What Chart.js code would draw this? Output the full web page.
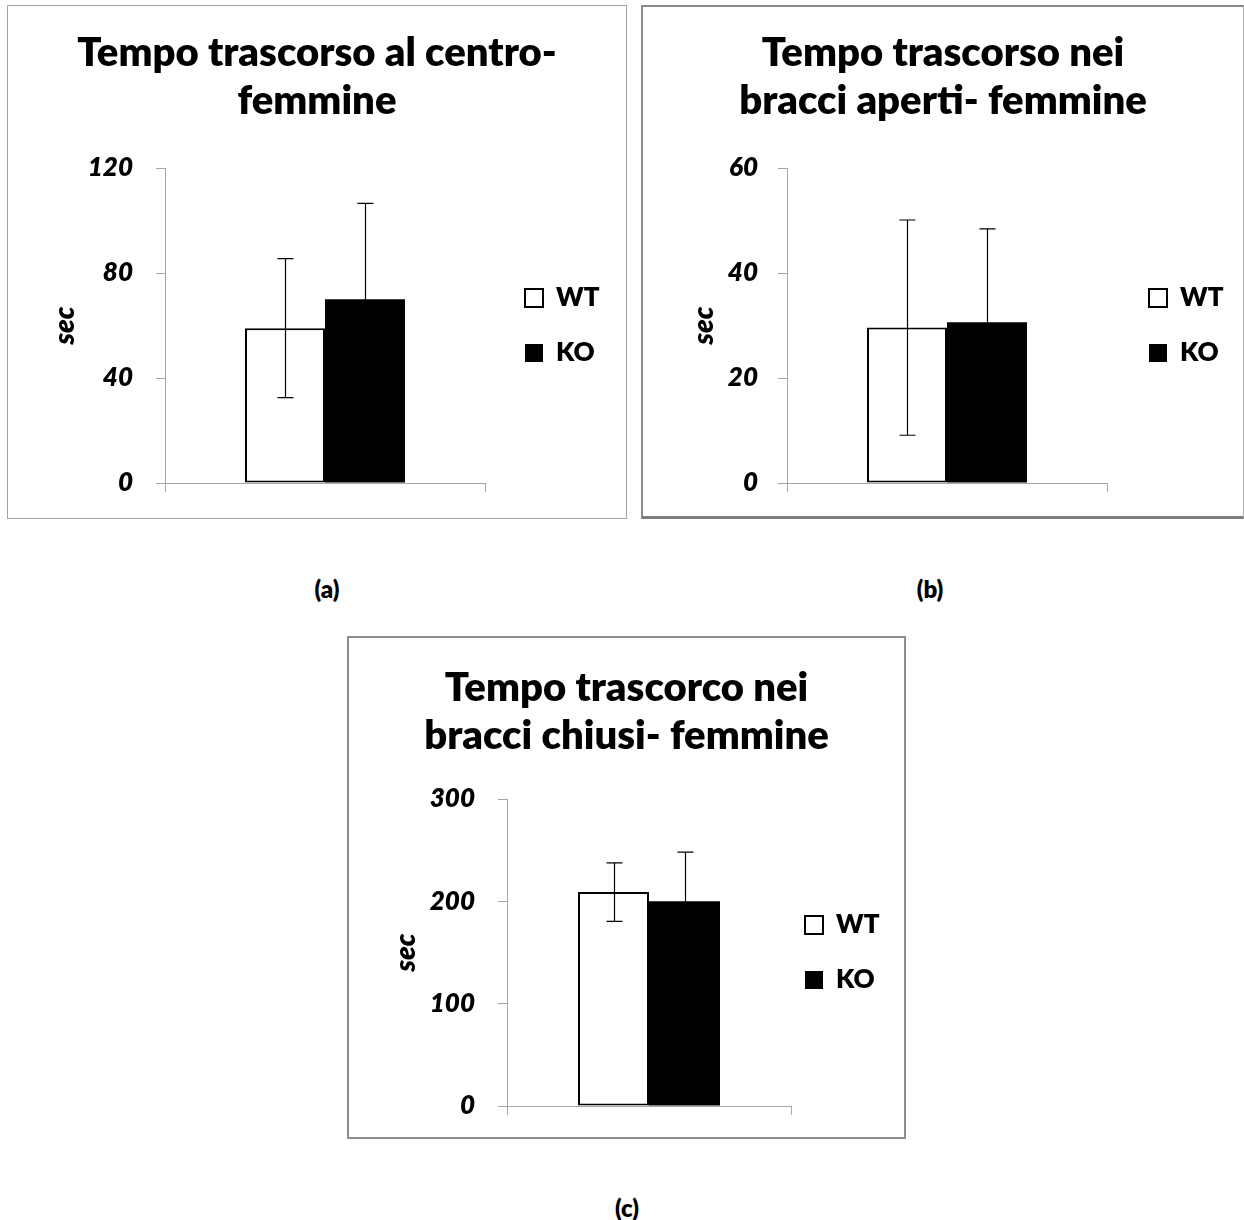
<!DOCTYPE html>
<html>
<head>
<meta charset="utf-8">
<script src="https://cdn.jsdelivr.net/npm/chart.js@4.4.1/dist/chart.umd.min.js"></script>
<style>
  html, body { margin: 0; padding: 0; background: #fff; }
  body { width: 1244px; height: 1220px; position: relative; overflow: hidden; font-family: Lato, sans-serif; }
  .frame { position: absolute; box-sizing: border-box; }
  canvas { position: absolute; }
  .cap { position: absolute; font-weight: 800; font-size: 24px; color: #000; transform: translate(-50%, -50%); white-space: nowrap; }
</style>
</head>
<body>
<div class="frame" style="left:7px;top:5px;width:620px;height:514px;border:1px solid #a3a3a3;"></div>
<div class="frame" style="left:641px;top:5px;width:603px;height:514px;border-style:solid;border-color:#8a8a8a #b0b0b0 #7f7f7f #8a8a8a;border-width:2px 1px 3px 2px;"></div>
<div class="frame" style="left:347px;top:636px;width:559px;height:503px;border:2px solid #8e8e8e;"></div>

<canvas id="chartA" width="618" height="512" style="left:8px;top:6px;"></canvas>
<canvas id="chartB" width="600" height="509" style="left:643px;top:7px;"></canvas>
<canvas id="chartC" width="555" height="499" style="left:349px;top:638px;"></canvas>

<div class="cap" style="left:327px;top:588px;">(a)</div>
<div class="cap" style="left:930px;top:588px;">(b)</div>
<div class="cap" style="left:627px;top:1207px;">(c)</div>

<script>
// Groups compared in every panel
const groups = ['WT', 'KO'];
const category = [''];

// Time spent in the centre (sec): means and standard errors
const centroMean = [59, 70];
const centroErr = [26.5, 36.5];

// Time spent in the open arms (sec)
const apertiMean = [29.6, 30.6];
const apertiErr = [20.5, 17.8];

// Time spent in the closed arms (sec)
const chiusiMean = [209, 200];
const chiusiErr = [28.5, 48];

// Axis tick ranges
const centroTicks = [0, 40, 80, 120];
const apertiTicks = [0, 20, 40, 60];
const chiusiTicks = [0, 100, 200, 300];

const AXIS_GREY = '#a6a6a6';
const FONT = 'Lato';
const HEAVY = 800;

// Draws symmetric error bars on each bar, using the value scale
const errorBarPlugin = {
  id: 'errorBars',
  afterDatasetsDraw(chart, args, opts) {
    const ctx = chart.ctx;
    const yScale = chart.scales.y;
    ctx.save();
    ctx.strokeStyle = '#000';
    ctx.lineWidth = 1.2;
    chart.data.datasets.forEach((ds, di) => {
      const meta = chart.getDatasetMeta(di);
      meta.data.forEach((bar, i) => {
        const v = ds.data[i];
        const e = opts.errors[di][i];
        const x = Math.round(bar.x) + 0.5;
        const yHi = yScale.getPixelForValue(v + e);
        const yLo = yScale.getPixelForValue(v - e);
        const cap = 8;
        ctx.beginPath();
        ctx.moveTo(x, yHi); ctx.lineTo(x, yLo);
        ctx.moveTo(x - cap, yHi); ctx.lineTo(x + cap, yHi);
        ctx.moveTo(x - cap, yLo); ctx.lineTo(x + cap, yLo);
        ctx.stroke();
      });
    });
    ctx.restore();
  }
};

// Places the legend at a fixed gap from the plot and keeps the title
// centred on the whole canvas despite the right-hand layout padding
const boxOffsetPlugin = {
  id: 'boxOffset',
  afterLayout(chart, args, opts) {
    const lg = chart.legend;
    if (lg) {
      lg.left += opts.shift;
      lg.right = lg.left + 160;
      lg.width = 160;
    }
    const tb = chart.titleBlock;
    if (tb) {
      tb.left = 0;
      tb.right = chart.width;
      tb.width = chart.width;
    }
  }
};

function makeChart(id, cfg) {
  const ticks = cfg.ticks;
  return new Chart(document.getElementById(id), {
    type: 'bar',
    data: {
      labels: category,
      datasets: [
        {
          label: groups[0],
          data: [cfg.mean[0]],
          backgroundColor: '#ffffff',
          borderColor: '#000000',
          borderWidth: 2,
          borderSkipped: false
        },
        {
          label: groups[1],
          data: [cfg.mean[1]],
          backgroundColor: '#000000',
          borderColor: '#000000',
          borderWidth: 0,
          borderSkipped: false
        }
      ]
    },
    options: {
      responsive: false,
      animation: false,
      events: [],
      datasets: { bar: { categoryPercentage: 0.5, barPercentage: 1.0 } },
      layout: { padding: { left: 0, top: 0, right: cfg.padRight, bottom: cfg.padBottom } },
      scales: {
        x: {
          offset: true,
          grid: { offset: true, drawOnChartArea: false, tickLength: 9, color: AXIS_GREY },
          border: { color: AXIS_GREY },
          ticks: { display: false }
        },
        y: {
          min: ticks[0],
          max: ticks[ticks.length - 1],
          afterFit(scale) {
            scale.width = cfg.axisWidth;
            scale.paddingTop = 0;
            scale.paddingBottom = 0;
          },
          grid: { drawOnChartArea: false, tickLength: 9, color: AXIS_GREY },
          border: { color: AXIS_GREY },
          ticks: {
            stepSize: ticks[1] - ticks[0],
            padding: cfg.tickPad,
            color: '#000',
            font: { family: FONT, size: 26, weight: HEAVY, style: 'italic' }
          },
          title: {
            display: true,
            text: 'sec',
            color: '#000',
            padding: { top: cfg.secPad, bottom: 0 },
            font: { family: FONT, size: 28, weight: HEAVY, style: 'italic' }
          }
        }
      },
      plugins: {
        title: {
          display: true,
          text: cfg.title,
          color: '#000',
          padding: { top: cfg.titleTop, bottom: cfg.titleBottom },
          font: { family: FONT, size: 40, weight: HEAVY, lineHeight: 1.2 }
        },
        legend: {
          position: 'right',
          align: 'center',
          fullSize: false,
          maxWidth: 80,
          labels: {
            boxWidth: 18,
            boxHeight: 18,
            padding: 29,
            color: '#000',
            font: { family: FONT, size: 26, weight: HEAVY }
          }
        },
        tooltip: { enabled: false },
        errorBars: { errors: cfg.err },
        boxOffset: { shift: cfg.legendShift }
      }
    },
    plugins: [errorBarPlugin, boxOffsetPlugin]
  });
}

function drawAll() {
  Chart.defaults.font.family = FONT;
  Chart.defaults.color = '#000';

  makeChart('chartA', {
    title: ['Tempo trascorso al centro-', 'femmine'],
    mean: centroMean, err: [[centroErr[0]], [centroErr[1]]], ticks: centroTicks,
    axisWidth: 157, padRight: 61, padBottom: 26,
    titleTop: 23, titleBottom: 43, tickPad: 23, secPad: 40, legendShift: 11
  });
  makeChart('chartB', {
    title: ['Tempo trascorso nei', 'bracci aperti- femmine'],
    mean: apertiMean, err: [[apertiErr[0]], [apertiErr[1]]], ticks: apertiTicks,
    axisWidth: 144, padRight: 56, padBottom: 24,
    titleTop: 22, titleBottom: 43, tickPad: 20, secPad: 44, legendShift: 13
  });
  makeChart('chartC', {
    title: ['Tempo trascorco nei', 'bracci chiusi- femmine'],
    mean: chiusiMean, err: [[chiusiErr[0]], [chiusiErr[1]]], ticks: chiusiTicks,
    axisWidth: 158, padRight: 33, padBottom: 22,
    titleTop: 26, titleBottom: 39, tickPad: 23, secPad: 40, legendShift: -15
  });
}

const fontLoads = [
  '800 40px Lato', 'italic 800 26px Lato', '800 26px Lato'
].map(f => document.fonts.load(f).catch(() => null));
Promise.all(fontLoads).then(drawAll, drawAll);
</script>
</body>
</html>
